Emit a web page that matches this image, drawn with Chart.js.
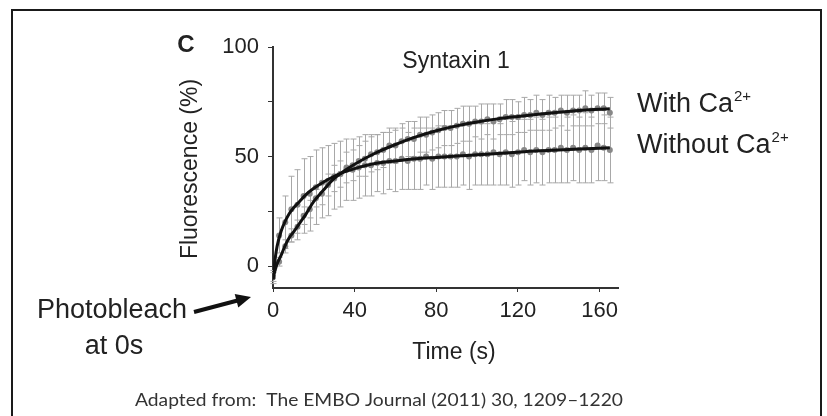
<!DOCTYPE html>
<html>
<head>
<meta charset="utf-8">
<script src="https://cdn.jsdelivr.net/npm/chart.js@4.4.1/dist/chart.umd.min.js"></script>
<style>
  html, body { margin: 0; padding: 0; background: #fff; }
  #wrap { width: 827px; height: 416px; }
</style>
</head>
<body>
<div id="wrap"><canvas id="frap" width="827" height="416"></canvas></div>
<script>
// Data, one sample every 3 s
const times = [0,3,6,9,12,15,18,21,24,27,30,33,36,39,42,45,48,51,54,57,60,63,66,69,72,75,78,81,84,87,90,93,96,99,102,105,108,111,114,117,120,123,126,129,132,135,138,141,144,147,150,153,156,159,162,165];
const withMean = [-5,2,9,14,18,23,26,31,33,37,40,42,45,46,48,49,51,52,53,55,55,57,58,58,60,60,61,62,63,63,64,65,65,66,66,67,66,67,68,68,68,69,69,70,69,70,70,71,70,71,71,72,71,72,72,70];
const withSd = [2,2,3,3,3,4,4,4,5,5,6,6,7,7,7,8,8,8,8,8,8,8,8,8,8,8,8,8,8,8,8,8,8,7,8,7,8,7,8,8,7,8,7,8,7,8,7,7,8,7,7,8,7,7,7,7];
const withoutMean = [-5,14,20,26,28,32,33,36,38,39,41,42,44,44,45,46,46,47,47,48,48,49,48,49,49,50,49,50,50,50,50,51,50,51,51,51,52,51,52,51,52,53,52,53,52,53,53,54,53,54,53,54,53,55,54,53];
const withoutSd = [3,8,12,15,16,17,17,17,16,16,15,15,14,14,14,14,14,13,14,13,14,14,13,14,14,13,14,14,14,14,14,14,15,14,14,14,15,14,15,15,15,14,15,15,15,15,15,16,15,15,15,16,15,16,15,15];

// fitted curves
const fitTimes = [0,1,2,4,6,8,10,13,16,20,25,30,35,40,50,60,70,80,90,100,110,120,130,140,150,160,165];
const withFit = [-6,-2,1,5,9.5,13,15.5,19.5,23.5,29.5,35,40,43.5,46.5,51.5,55.5,59,61.8,64,65.8,67.2,68.3,69.3,70.2,71,71.6,71.8];
const withoutFit = [-6,3,9,16,20.5,24,26.5,29.5,32.5,35.5,38.5,41,43,44.5,46.8,48,49,49.6,50.2,50.8,51.4,52,52.6,53,53.4,53.8,54];

const xTicks = [0,40,80,120,160];
const yTicks = [0,25,50,75,100];
const yLabels = {0:'0', 50:'50', 100:'100'};

const pts = (xs, ys) => xs.map((x, i) => ({ x: x, y: ys[i] }));
const ARIAL = '"Liberation Sans", Arial, sans-serif';

const decor = {
  id: 'decor',
  beforeDatasetsDraw(chart) {
    const ctx = chart.ctx, xs = chart.scales.x, ys = chart.scales.y;
    ctx.save();
    ctx.strokeStyle = '#a8a8a8';
    ctx.lineWidth = 1;
    [[withoutMean, withoutSd], [withMean, withSd]].forEach(([m, s]) => {
      times.forEach((t, i) => {
        const x = Math.round(xs.getPixelForValue(t)) + 0.5;
        const yt = ys.getPixelForValue(m[i] + s[i]);
        const yb = ys.getPixelForValue(m[i] - s[i]);
        ctx.beginPath();
        ctx.moveTo(x, yt); ctx.lineTo(x, yb);
        ctx.moveTo(x - 3, yt); ctx.lineTo(x + 3, yt);
        ctx.moveTo(x - 3, yb); ctx.lineTo(x + 3, yb);
        ctx.stroke();
      });
    });
    ctx.restore();
  },
  afterDraw(chart) {
    const ctx = chart.ctx, a = chart.chartArea;
    ctx.save();
    // frame
    ctx.strokeStyle = '#1a1a1a';
    ctx.lineWidth = 2;
    ctx.beginPath();
    ctx.moveTo(12, 420); ctx.lineTo(12, 10); ctx.lineTo(821, 10); ctx.lineTo(821, 420);
    ctx.stroke();

    ctx.fillStyle = '#222';
    ctx.textBaseline = 'middle';
    // panel letter
    ctx.font = 'bold 24px ' + ARIAL;
    ctx.textAlign = 'center';
    ctx.fillText('C', 186, 45);
    // title
    ctx.font = '23px ' + ARIAL;
    ctx.fillText('Syntaxin 1', 456, 62);
    // axis titles
    ctx.fillText('Time (s)', 454, 353);
    ctx.save();
    ctx.translate(191, 169);
    ctx.rotate(-Math.PI / 2);
    ctx.fillText('Fluorescence (%)', 0, 0);
    ctx.restore();

    // series labels
    ctx.textAlign = 'left';
    const label = (txt, x, y) => {
      ctx.font = '27px ' + ARIAL;
      ctx.fillText(txt, x, y);
      const w = ctx.measureText(txt).width;
      ctx.font = '15px ' + ARIAL;
      ctx.fillText('2+', x + w + 1, y - 8);
    };
    label('With Ca', 637, 105);
    label('Without Ca', 637, 146);

    // photobleach note + arrow
    ctx.font = '27px ' + ARIAL;
    ctx.textAlign = 'center';
    ctx.fillText('Photobleach', 112, 311);
    ctx.fillText('at 0s', 114, 347);
    ctx.strokeStyle = '#111';
    ctx.fillStyle = '#111';
    ctx.lineWidth = 4;
    const x1 = 194, y1 = 312, x2 = a.left - 22, y2 = a.bottom + 9;
    const ang = Math.atan2(y2 - y1, x2 - x1);
    ctx.beginPath();
    ctx.moveTo(x1, y1);
    ctx.lineTo(x2 - 10 * Math.cos(ang), y2 - 10 * Math.sin(ang));
    ctx.stroke();
    ctx.beginPath();
    ctx.moveTo(x2, y2);
    ctx.lineTo(x2 - 15 * Math.cos(ang) + 7 * Math.sin(ang), y2 - 15 * Math.sin(ang) - 7 * Math.cos(ang));
    ctx.lineTo(x2 - 15 * Math.cos(ang) - 7 * Math.sin(ang), y2 - 15 * Math.sin(ang) + 7 * Math.cos(ang));
    ctx.closePath();
    ctx.fill();

    // source caption, stretched to the original width
    const cap = 'Adapted from:  The EMBO Journal (2011) 30, 1209\u20131220';
    ctx.fillStyle = '#333';
    ctx.font = '17px Lato, "Open Sans", sans-serif';
    ctx.textAlign = 'left';
    const cw = ctx.measureText(cap).width;
    ctx.translate(135, 401);
    ctx.scale(488 / cw, 1);
    ctx.fillText(cap, 0, 0);
    ctx.restore();
  }
};

new Chart(document.getElementById('frap'), {
  type: 'line',
  data: {
    datasets: [
      { data: pts(fitTimes, withFit), borderColor: '#111', borderWidth: 3, pointRadius: 0, cubicInterpolationMode: 'monotone', fill: false },
      { data: pts(fitTimes, withoutFit), borderColor: '#111', borderWidth: 3, pointRadius: 0, cubicInterpolationMode: 'monotone', fill: false },
      { data: pts(times, withMean), showLine: false, pointRadius: 3, pointBackgroundColor: '#888', pointBorderWidth: 0 },
      { data: pts(times, withoutMean), showLine: false, pointRadius: 3, pointBackgroundColor: '#888', pointBorderWidth: 0 }
    ]
  },
  options: {
    responsive: false,
    animation: false,
    layout: { padding: { left: 0, top: 47, right: 209, bottom: 0 } },
    plugins: { legend: { display: false }, tooltip: { enabled: false } },
    scales: {
      x: {
        type: 'linear', min: 0, max: 169,
        afterBuildTicks: s => { s.ticks = xTicks.map(v => ({ value: v })); },
        afterFit: s => { s.height = 128; },
        border: { display: true, color: '#333', width: 2 },
        grid: { drawOnChartArea: false, drawTicks: true, tickLength: 4, color: '#333' },
        ticks: { color: '#222', font: { family: ARIAL, size: 22 }, padding: 6, maxRotation: 0 }
      },
      y: {
        type: 'linear', min: -10, max: 100,
        afterBuildTicks: s => { s.ticks = yTicks.map(v => ({ value: v })); },
        afterFit: s => { s.width = 273; },
        border: { display: true, color: '#333', width: 2 },
        grid: { drawOnChartArea: false, drawTicks: true, tickLength: 5, color: '#333' },
        ticks: { color: '#222', font: { family: ARIAL, size: 22 }, padding: 9, callback: v => yLabels[v] || '' }
      }
    }
  },
  plugins: [decor]
});
</script>
</body>
</html>
